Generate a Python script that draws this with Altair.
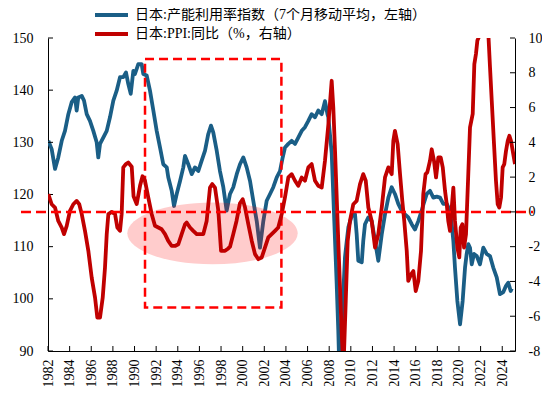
import altair as alt
import pandas as pd

blue_label = "日本:产能利用率指数（7个月移动平均，左轴）"
red_label = "日本:PPI:同比（%，右轴）"

blue_years = [1982.03, 1982.34, 1982.65, 1982.95, 1983.27, 1983.57, 1983.88, 1984.19, 1984.50, 1984.65,
              1984.80, 1985.12, 1985.33, 1985.58, 1985.88, 1986.19, 1986.50, 1986.65, 1986.81, 1987.11,
              1987.43, 1987.73, 1988.04, 1988.35, 1988.66, 1988.96, 1989.21, 1989.42, 1989.65, 1989.89,
              1990.04, 1990.35, 1990.66, 1990.81, 1991.13, 1991.43, 1991.74, 1992.05, 1992.36, 1992.66,
              1992.98, 1993.12, 1993.44, 1993.65, 1993.90, 1994.21, 1994.51, 1994.67, 1994.97, 1995.29,
              1995.59, 1995.90, 1996.21, 1996.52, 1996.82, 1997.07, 1997.28, 1997.60, 1997.90, 1998.21,
              1998.52, 1998.83, 1999.13, 1999.45, 1999.75, 2000.06, 2000.37, 2000.68, 2000.98, 2001.30,
              2001.60, 2001.91, 2002.22, 2002.53, 2002.83, 2003.15, 2003.45, 2003.70, 2003.91, 2004.22,
              2004.53, 2004.84, 2005.14, 2005.46, 2005.76, 2006.07, 2006.38, 2006.69, 2006.99, 2007.31,
              2007.61, 2007.83, 2007.92, 2008.07, 2008.23, 2008.47, 2008.69, 2008.84, 2009.00, 2009.16,
              2009.30, 2009.46, 2009.62, 2009.77, 2010.08, 2010.39, 2010.54, 2010.69, 2011.01, 2011.15,
              2011.31, 2011.62, 2011.93, 2012.24, 2012.54, 2012.86, 2013.16, 2013.47, 2013.78, 2014.08,
              2014.39, 2014.70, 2015.01, 2015.31, 2015.63, 2015.93, 2016.24, 2016.55, 2016.70, 2017.02,
              2017.32, 2017.63, 2017.94, 2018.25, 2018.55, 2018.87, 2019.17, 2019.33, 2019.48, 2019.63,
              2019.85, 2020.10, 2020.34, 2020.56, 2020.71, 2020.86, 2021.02, 2021.18, 2021.39, 2021.64,
              2021.94, 2022.25, 2022.56, 2022.87, 2023.17, 2023.49, 2023.79, 2024.10, 2024.35, 2024.56,
              2024.78, 2024.88]
blue_values = [130.3, 128.7, 124.9, 127.1, 130.3, 132.2, 135.4, 137.7, 138.6, 136.1,
               138.6, 138.9, 138.0, 135.4, 134.1, 132.2, 130.0, 127.1, 129.7, 130.9,
               132.2, 134.8, 138.0, 139.9, 142.5, 142.5, 143.4, 141.2, 139.3, 143.7,
               143.1, 145.0, 145.0, 143.1, 142.8, 139.9, 136.1, 132.2, 129.0, 125.8,
               125.2, 123.3, 120.7, 117.8, 120.1, 122.6, 125.2, 127.4, 125.8, 123.9,
               125.2, 124.5, 126.5, 128.4, 131.6, 133.2, 131.9, 128.4, 124.5, 121.4,
               116.9, 120.1, 121.4, 123.9, 125.8, 127.1, 125.2, 122.6, 118.8, 114.9,
               109.8, 114.9, 118.8, 120.1, 121.4, 123.3, 124.5, 127.1, 129.0, 129.7,
               130.3, 129.7, 130.9, 132.2, 132.9, 134.1, 135.4, 134.8, 136.1, 135.4,
               137.9, 135.5, 134.8, 131.5, 128.0, 115.0, 103.0, 94.0, 82.0, 93.0,
               101.0, 108.0, 111.0, 113.7, 115.9, 116.2, 112.4, 107.3, 107.0, 111.1,
               114.3, 115.6, 114.9, 111.1, 107.3, 112.4, 116.2, 119.4, 121.4, 120.1,
               118.2, 116.9, 116.2, 115.6, 114.3, 113.3, 114.9, 116.9, 118.0, 120.1,
               120.7, 119.4, 119.6, 119.4, 118.2, 118.2, 116.9, 114.3, 111.1, 106.0,
               99.6, 95.1, 99.6, 106.0, 108.6, 110.5, 109.8, 106.6, 108.6, 108.2,
               106.6, 109.8, 108.6, 108.2, 106.0, 104.1, 100.9, 101.3, 102.5, 103.1,
               101.5, 102.0]

red_years = [1982.03, 1982.34, 1982.65, 1982.95, 1983.27, 1983.48, 1983.73, 1984.03, 1984.34, 1984.65,
             1984.89, 1985.12, 1985.42, 1985.73, 1986.04, 1986.35, 1986.56, 1986.81, 1987.06, 1987.27,
             1987.43, 1987.58, 1987.89, 1988.20, 1988.41, 1988.66, 1988.81, 1988.96, 1989.21, 1989.42,
             1989.74, 1989.91, 1990.20, 1990.51, 1990.74, 1990.97, 1991.27, 1991.59, 1991.89, 1992.20,
             1992.51, 1992.82, 1993.12, 1993.44, 1993.74, 1994.05, 1994.36, 1994.67, 1994.82, 1995.13,
             1995.43, 1995.75, 1996.05, 1996.36, 1996.67, 1996.98, 1997.19, 1997.44, 1997.75, 1998.00,
             1998.37, 1998.67, 1998.83, 1999.13, 1999.43, 1999.75, 2000.00, 2000.22, 2000.52, 2000.84,
             2001.14, 2001.45, 2001.76, 2002.06, 2002.37, 2002.68, 2002.99, 2003.29, 2003.61, 2003.91,
             2004.22, 2004.53, 2004.84, 2005.14, 2005.46, 2005.76, 2006.07, 2006.38, 2006.69, 2006.99,
             2007.31, 2007.61, 2007.92, 2008.23, 2008.38, 2008.54, 2008.84, 2009.16, 2009.32, 2009.53,
             2009.71, 2009.92, 2010.23, 2010.54, 2010.85, 2011.15, 2011.38, 2011.62, 2011.93, 2012.24,
             2012.54, 2012.86, 2013.16, 2013.47, 2013.78, 2013.93, 2014.08, 2014.33, 2014.55, 2014.76,
             2014.94, 2015.17, 2015.31, 2015.56, 2015.78, 2016.00, 2016.24, 2016.49, 2016.70, 2016.91,
             2017.07, 2017.32, 2017.48, 2017.69, 2017.88, 2018.09, 2018.31, 2018.50, 2018.71, 2018.87,
             2019.01, 2019.17, 2019.33, 2019.48, 2019.63, 2019.85, 2020.03, 2020.16, 2020.31, 2020.47,
             2020.65, 2020.86, 2021.02, 2021.27, 2021.42, 2021.57, 2021.70, 2021.94, 2022.41, 2022.71,
             2022.87, 2023.03, 2023.24, 2023.42, 2023.58, 2023.73, 2023.89, 2024.04, 2024.19, 2024.35,
             2024.51, 2024.66, 2024.81, 2024.97, 2025.18]
red_values = [1.02, 0.44, 0.25, -0.52, -0.90, -1.28, -0.80, 0.06, 0.44, 0.63,
              0.44, -0.13, -1.09, -2.24, -3.78, -4.93, -6.08, -6.08, -4.93, -3.20,
              -1.28, -0.13, 0.00, -0.13, -0.90, -1.09, -0.13, 2.56, 2.75, 2.84,
              2.60, 0.90, 0.45, 1.50, 2.05, 1.79, 0.83, -0.13, -0.80, -0.90,
              -1.00, -1.28, -1.67, -1.96, -1.96, -1.86, -1.28, -0.71, -0.61, -0.90,
              -1.09, -1.28, -1.28, -1.28, -0.52, 1.40, 1.60, 1.40, 0.06, -2.24,
              -2.24, -2.10, -2.00, -1.28, -0.52, 0.50, 0.73, 0.25, -0.71, -1.67,
              -2.43, -2.72, -2.62, -2.05, -1.47, -1.28, -1.09, -0.90, -0.13, 0.83,
              1.98, 2.17, 1.79, 1.50, 1.98, 1.79, 2.56, 2.75, 1.79, 1.50,
              1.40, 2.94, 5.00, 7.54, 6.00, 3.51, -1.67, -7.04, -9.00, -5.12,
              -1.67, -0.52, 0.44, 0.63, 1.60, 2.17, 1.79, 0.25, -0.52, -2.05,
              -1.28, 0.25, 1.98, 2.56, 2.17, 4.09, 4.66, 3.90, 2.17, 0.63,
              -0.52, -2.24, -3.97, -3.60, -3.40, -4.55, -3.97, -2.24, 1.02, 2.17,
              2.27, 2.94, 3.60, 2.94, 1.98, 3.13, 3.13, 2.56, 1.21, 0.44,
              -0.52, -1.09, 0.25, 1.40, -0.52, -2.05, -2.62, -0.90, -0.71, -2.05,
              -1.28, 2.17, 4.86, 5.63, 8.50, 9.08, 9.85, 10.20, 10.60, 10.30,
              8.31, 6.39, 3.90, 1.79, 0.44, 0.25, 0.83, 2.56, 2.75, 3.51,
              4.09, 4.38, 4.09, 3.51, 2.75]

year_ticks = list(range(1982, 2025, 2))
left_ticks = [90, 100, 110, 120, 130, 140, 150]
right_ticks = [-8, -6, -4, -2, 0, 2, 4, 6, 8, 10]

box_years = [1990.97, 2003.58]
box_values = [98.33, 145.97]
ellipse_year = [1997.21]
ellipse_value = [112.55]
zero_level = [0]

W, H = 467, 313
FONT = "Liberation Serif"
LEGEND_FONT = "Liberation Serif, Noto Sans CJK SC"
BLUE = "#1A5E86"
RED = "#C00000"
BRIGHT = "#FF0000"
ELLIPSE_PATH = "M-1,0A1,0.362,0,1,0,1,0A1,0.362,0,1,0,-1,0Z"

lines = pd.DataFrame({
    "year": blue_years + red_years,
    "value": blue_values + red_values,
    "series": [blue_label] * len(blue_years) + [red_label] * len(red_years),
})

xscale = alt.Scale(domain=[1982.0, 2025.18], nice=False, zero=False)
xaxis = alt.Axis(values=year_ticks, format="d", labelAngle=-90, labelPadding=8, ticks=False, tickSize=0,
                 grid=False, domainColor="black", domainWidth=1, labelFont=FONT, labelFontSize=14,
                 labelColor="black", labelFlush=False, labelOverlap=False, title=None)
lscale = alt.Scale(domain=[90, 150], nice=False, zero=False)
laxis = alt.Axis(orient="left", values=left_ticks, ticks=False, tickSize=0, labelPadding=15, grid=False,
                 domainColor="black", domainWidth=1, labelFont=FONT, labelFontSize=14, labelColor="black",
                 labelFlush=False, title=None)
rscale = alt.Scale(domain=[-8, 10], nice=False, zero=False)
raxis = alt.Axis(orient="right", values=right_ticks, ticks=False, tickSize=0, labelPadding=13, grid=False,
                 domainColor="black", domainWidth=1, labelFont=FONT, labelFontSize=14, labelColor="black",
                 labelFlush=False, labelExpr="'' + datum.value", title=None)

color = alt.Color(
    "series:N",
    scale=alt.Scale(domain=[blue_label, red_label], range=[BLUE, RED]),
    legend=alt.Legend(orient="none", legendX=47, legendY=-32.5, direction="vertical", title=None,
                      symbolType="M-2.2,0H2.2", symbolSize=225, symbolStrokeWidth=4, symbolOffset=7,
                      labelOffset=14, rowPadding=1, padding=0, labelFont=LEGEND_FONT, labelFontSize=14,
                      labelLimit=0, labelColor="black"),
)

blue = alt.Chart(lines).transform_filter(alt.datum.series == blue_label).mark_line(
    strokeWidth=3.8, clip=True, strokeJoin="round").encode(
    x=alt.X("year:Q", scale=xscale, axis=xaxis),
    y=alt.Y("value:Q", scale=lscale, axis=laxis),
    color=color,
)

box = alt.Chart(pd.DataFrame({"x0": [box_years[0]], "x1": [box_years[1]],
                              "y0": [box_values[0]], "y1": [box_values[1]]})).mark_rect(
    filled=False, color=BRIGHT, strokeWidth=2.5, strokeDash=[9, 5]).encode(
    x=alt.X("x0:Q", scale=xscale, axis=xaxis), x2="x1:Q",
    y=alt.Y("y0:Q", scale=lscale, axis=laxis), y2="y1:Q",
)

ellipse = alt.Chart(pd.DataFrame({"year": ellipse_year, "value": ellipse_value})).mark_point(
    shape=ELLIPSE_PATH, size=29036, filled=True, color=BRIGHT, opacity=0.2, strokeWidth=0).encode(
    x=alt.X("year:Q", scale=xscale, axis=xaxis),
    y=alt.Y("value:Q", scale=lscale, axis=laxis),
)

left_tick_marks = alt.Chart(pd.DataFrame({"tick": left_ticks})).mark_rule(color="black", strokeWidth=1).encode(
    y=alt.Y("tick:Q", scale=lscale, axis=laxis), x=alt.value(0), x2=alt.value(5))

bottom_tick_marks = alt.Chart(pd.DataFrame({"tick_year": year_ticks})).mark_rule(color="black", strokeWidth=1).encode(
    x=alt.X("tick_year:Q", scale=xscale, axis=xaxis), y=alt.value(H), y2=alt.value(H - 5))

red = alt.Chart(lines).transform_filter(alt.datum.series == red_label).mark_line(
    strokeWidth=3.8, clip=True, strokeJoin="round").encode(
    x=alt.X("year:Q", scale=xscale, axis=xaxis),
    y=alt.Y("value:Q", scale=rscale, axis=raxis),
    color=color,
)

zero_rule = alt.Chart(pd.DataFrame({"level": zero_level})).mark_rule(
    color=BRIGHT, strokeWidth=2.5, strokeDash=[10, 5]).encode(
    y=alt.Y("level:Q", scale=rscale, axis=raxis), x=alt.value(-27), x2=alt.value(W + 18))

right_tick_marks = alt.Chart(pd.DataFrame({"tick": right_ticks})).mark_rule(color="black", strokeWidth=1).encode(
    y=alt.Y("tick:Q", scale=rscale, axis=raxis), x=alt.value(W - 5), x2=alt.value(W))

left = alt.layer(blue, left_tick_marks, bottom_tick_marks, box, ellipse)
right = alt.layer(red, zero_rule, right_tick_marks)

chart = alt.layer(left, right).resolve_scale(y="independent").properties(
    width=W, height=H,
    padding={"left": 40, "top": 30, "right": 27, "bottom": 35},
    autosize=alt.AutoSizeParams(type="none"),
).configure_view(strokeWidth=0)

chart.save("out.html", embed_options={"renderer": "svg", "actions": False})
